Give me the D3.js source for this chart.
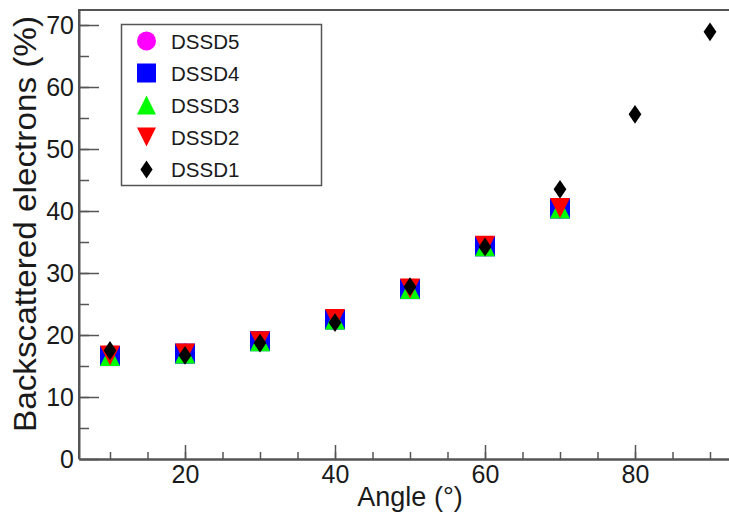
<!DOCTYPE html>
<html>
<head>
<meta charset="utf-8">
<script src="https://cdn.jsdelivr.net/npm/d3@7"></script>
<style>
  html, body { margin: 0; padding: 0; background: #fff; }
  svg { display: block; }
  text { font-family: "Liberation Sans", Arial, sans-serif; fill: #1a1a1a; }
</style>
</head>
<body>
<svg id="chart" width="729" height="513"></svg>
<script>
// ---- data ----
const angles = [10, 20, 30, 40, 50, 60, 70];
const dssd5 = [16.6, 17.0, 19.0, 22.5, 27.4, 34.3, 40.4];
const dssd4 = [16.6, 17.0, 19.0, 22.5, 27.4, 34.3, 40.4];
const dssd3 = [16.6, 17.0, 19.0, 22.5, 27.4, 34.3, 40.4];
const dssd2 = [16.7, 17.0, 19.0, 22.6, 27.5, 34.4, 40.5];
const angles1 = [10, 20, 30, 40, 50, 60, 70, 80, 90];
const dssd1 = [17.5, 16.7, 18.7, 22.0, 27.8, 34.2, 43.5, 55.6, 68.9];
const seriesNames = ["DSSD5", "DSSD4", "DSSD3", "DSSD2", "DSSD1"];
const seriesColors = ["#ff00ff", "#0000ff", "#00ff00", "#ff0000", "#000000"];
const xMajorTicks = [20, 40, 60, 80];
const yMajorTicks = [0, 10, 20, 30, 40, 50, 60, 70];
const xLabel = "Angle (°)";
const yLabel = "Backscattered electrons (%)";

// ---- layout ----
const svg = d3.select("#chart");
const pL = 79, pR = 740, pT = 10, pB = 459;
const x = d3.scaleLinear().domain([5.867, 94]).range([pL, pR]);
const y = d3.scaleLinear().domain([0, 72.42]).range([pB, pT]);
const axisColor = "#555";

// frame
svg.append("path")
  .attr("d", `M${pL},${pB} L${pL},${pT} L${pR},${pT}`)
  .attr("fill", "none").attr("stroke", axisColor).attr("stroke-width", 2);

// x axis (ticks inward)
const gx = svg.append("g").attr("transform", `translate(0,${pB})`);
gx.call(d3.axisTop(x).tickValues(d3.range(10, 95, 5)).tickSizeInner(7).tickSizeOuter(0).tickFormat(""));
gx.call(g => g.selectAll(".tick line").attr("stroke", axisColor).attr("stroke-width", 1.5));
gx.call(g => g.select(".domain").attr("stroke", axisColor).attr("stroke-width", 2.5));
const gx2 = svg.append("g").attr("transform", `translate(0,${pB})`);
gx2.call(d3.axisTop(x).tickValues(xMajorTicks).tickSize(14).tickFormat(""));
gx2.call(g => g.select(".domain").remove());
gx2.call(g => g.selectAll(".tick line").attr("stroke", axisColor).attr("stroke-width", 1.5));
const gxl = svg.append("g").attr("transform", `translate(0,${pB})`);
gxl.call(d3.axisBottom(x).tickValues(xMajorTicks).tickSize(0).tickPadding(6).tickFormat(d3.format("d")));
gxl.call(g => g.select(".domain").remove());
gxl.selectAll("text").style("font-size", "25px").style("font-family", "'Liberation Sans', Arial, sans-serif").attr("fill", "#1a1a1a");

// y axis
const gy = svg.append("g").attr("transform", `translate(${pL},0)`);
gy.call(d3.axisRight(y).tickValues(d3.range(5, 72, 5)).tickSizeInner(10).tickSizeOuter(0).tickFormat(""));
gy.call(g => g.selectAll(".tick line").attr("stroke", axisColor).attr("stroke-width", 1.5));
gy.call(g => g.select(".domain").attr("stroke", axisColor).attr("stroke-width", 2));
const gy2 = svg.append("g").attr("transform", `translate(${pL},0)`);
gy2.call(d3.axisRight(y).tickValues(yMajorTicks).tickSize(20).tickFormat(""));
gy2.call(g => g.select(".domain").remove());
gy2.call(g => g.selectAll(".tick line").attr("stroke", axisColor).attr("stroke-width", 1.5));
const gyl = svg.append("g").attr("transform", `translate(${pL},0)`);
gyl.call(d3.axisLeft(y).tickValues(yMajorTicks).tickSize(0).tickPadding(5).tickFormat(d3.format("d")));
gyl.call(g => g.select(".domain").remove());
gyl.selectAll("text").style("font-size", "25px").style("font-family", "'Liberation Sans', Arial, sans-serif").attr("fill", "#1a1a1a");

// axis titles
svg.append("text").attr("x", 410).attr("y", 506).attr("text-anchor", "middle")
  .style("font-size", "27px").text(xLabel);
svg.append("text").attr("transform", `translate(36,224) rotate(-90)`).attr("text-anchor", "middle")
  .attr("textLength", 416).attr("lengthAdjust", "spacingAndGlyphs")
  .style("font-size", "31px").text(yLabel);

// markers
function shape(kind, s) {
  const h = s / 2;
  if (kind === "circle") return d3.symbol().type(d3.symbolCircle).size(Math.PI * h * h)();
  if (kind === "square") return `M${-h},${-h}H${h}V${h}H${-h}Z`;
  if (kind === "up") return `M0,${-h}L${h},${h}L${-h},${h}Z`;
  if (kind === "down") return `M0,${h}L${h},${-h}L${-h},${-h}Z`;
  if (kind === "diamond") return `M0,${-s*0.47}L${s*0.32},0L0,${s*0.47}L${-s*0.32},0Z`;
}
const kinds = ["circle", "square", "up", "down", "diamond"];
const dataSets = [
  angles.map((a, i) => [a, dssd5[i]]),
  angles.map((a, i) => [a, dssd4[i]]),
  angles.map((a, i) => [a, dssd3[i]]),
  angles.map((a, i) => [a, dssd2[i]]),
  angles1.map((a, i) => [a, dssd1[i]])
];
dataSets.forEach((ds, k) => {
  svg.append("g").selectAll("path").data(ds).join("path")
    .attr("d", shape(kinds[k], 20))
    .attr("transform", d => `translate(${x(d[0])},${y(d[1])})`)
    .attr("fill", seriesColors[k]);
});

// legend
const lg = svg.append("g");
lg.append("rect").attr("x", 121.5).attr("y", 24.5).attr("width", 200).attr("height", 161)
  .attr("fill", "#fff").attr("stroke", "#555").attr("stroke-width", 1.5);
const rowY = [41, 73, 105, 137, 169.5];
seriesNames.forEach((n, k) => {
  lg.append("path").attr("d", shape(kinds[k], 19))
    .attr("transform", `translate(146.5,${rowY[k]})`).attr("fill", seriesColors[k]);
  lg.append("text").attr("x", 171).attr("y", rowY[k] + 7.5).style("font-size", "20.5px").text(n);
});
</script>
</body>
</html>
